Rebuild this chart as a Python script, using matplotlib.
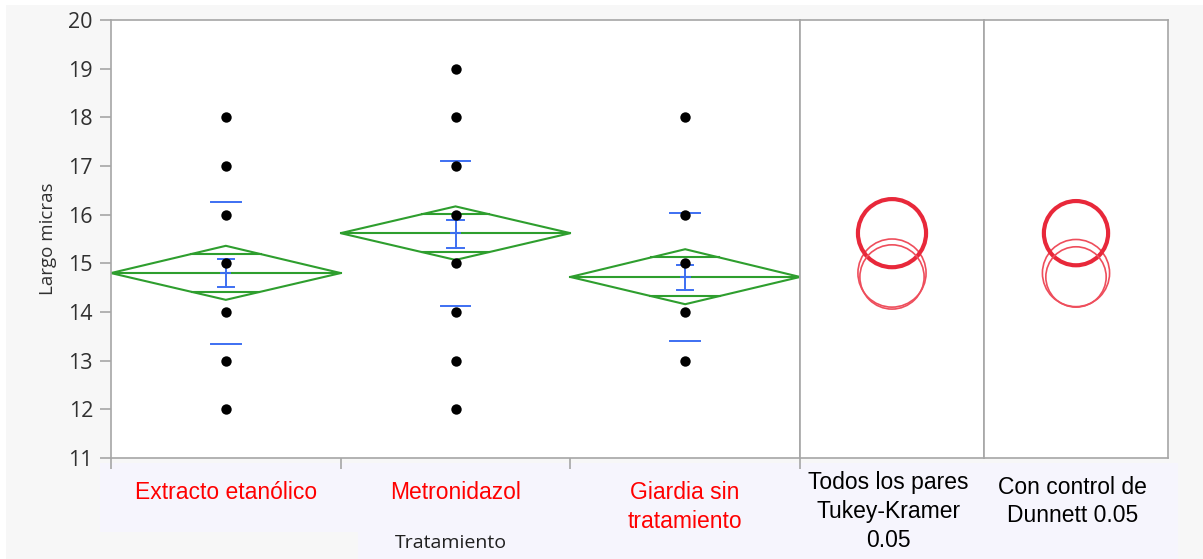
import numpy as np
import matplotlib
matplotlib.use("Agg")
import matplotlib.pyplot as plt
from matplotlib.patches import Rectangle, Circle, Polygon

# ---------------------------------------------------------------------------
# Data
# ---------------------------------------------------------------------------
groups = ["Extracto etanólico", "Metronidazol", "Giardia sin\ntratamiento"]
points = [
    [12, 13, 14, 15, 16, 17, 18],
    [12, 13, 14, 15, 16, 17, 18, 19],
    [13, 14, 15, 16, 18],
]
means = [14.80, 15.62, 14.72]
ci_lo = [14.25, 15.07, 14.16]
ci_hi = [15.36, 16.17, 15.29]
ovl_lo = [14.41, 15.23, 14.33]
ovl_hi = [15.19, 16.01, 15.12]
se_lo = [14.51, 15.31, 14.45]
se_hi = [15.09, 15.90, 14.97]
sd_lo = [13.35, 14.12, 13.40]
sd_hi = [16.26, 17.10, 16.03]

tukey_radii = [0.70, 0.70, 0.66]
dunnett_radii = [0.69, 0.66, 0.62]

y_ticks = list(range(11, 21))
y_label = "Largo micras"
x_label = "Tratamiento"
tukey_label = "Todos los pares\nTukey-Kramer\n0.05"
dunnett_label = "Con control de\nDunnett 0.05"

# ---------------------------------------------------------------------------
# Styles
# ---------------------------------------------------------------------------
W, H = 1203, 559
GREEN = "#2e9e2e"
BLUE = "#3d6ff2"
RED = "#e8283a"
RED_LT = "#ee4e5c"
FRAME = "#a6a6a6"
BG = "#f7f7f7"
LABEL_BG = "#f6f5fd"

fig = plt.figure(figsize=(W / 100, H / 100), dpi=100)
fig.patch.set_facecolor("white")


def fig_box(x0, y0, x1, y1):
    """Pixel box (top-left origin) -> figure fraction [l, b, w, h]."""
    return [x0 / W, 1 - y1 / H, (x1 - x0) / W, (y1 - y0) / H]


def fig_rect(x0, y0, x1, y1, color):
    l, b, w, h = fig_box(x0, y0, x1, y1)
    fig.add_artist(Rectangle((l, b), w, h, transform=fig.transFigure,
                             facecolor=color, edgecolor="none", zorder=0))


# background panels
fig_rect(6, 5, W, H, BG)
fig_rect(100, 463, 1178, 532, LABEL_BG)
fig_rect(358, 532, 1178, H, LABEL_BG)

PLOT_L, PLOT_R, PLOT_T, PLOT_B = 111, 800, 20, 458
PANEL2_R, PANEL3_R = 984, 1168

ax = fig.add_axes(fig_box(PLOT_L, PLOT_T, PLOT_R, PLOT_B))
ax.set_facecolor("white")
ax.set_xlim(-0.5, len(groups) - 0.5)
ax.set_ylim(11, 20)

for i in range(len(groups)):
    xl, xr = i - 0.5, i + 0.5
    m, lo, hi = means[i], ci_lo[i], ci_hi[i]
    # mean diamond
    ax.add_patch(Polygon([(xl, m), (i, hi), (xr, m), (i, lo)], closed=True,
                         fill=False, edgecolor=GREEN, lw=1.5, zorder=2))
    ax.plot([xl, xr], [m, m], color=GREEN, lw=1.5, zorder=2)
    # overlap marks, clipped to diamond edges
    for yv, top in ((ovl_hi[i], hi), (ovl_lo[i], lo)):
        frac = (yv - m) / (top - m)
        half = 0.5 * (1 - frac)
        ax.plot([i - half, i + half], [yv, yv], color=GREEN, lw=1.5, zorder=2)

    # points
    ax.scatter([i] * len(points[i]), points[i], s=56, color="black",
               zorder=4, linewidths=0)

    # std error bar
    ax.plot([i, i], [se_lo[i], se_hi[i]], color=BLUE, lw=1.4, zorder=3)
    for yv in (se_lo[i], se_hi[i]):
        ax.plot([i - 0.035, i + 0.035], [yv, yv], color=BLUE, lw=1.4, zorder=3)
    ax.plot([i - 0.02, i + 0.02], [m, m], color=BLUE, lw=1.4, zorder=3)
    # std dev lines
    for yv in (sd_lo[i], sd_hi[i]):
        ax.plot([i - 0.065, i + 0.065], [yv, yv], color=BLUE, lw=1.4, zorder=3)

ax.set_yticks(y_ticks)
ax.set_yticklabels([str(v) for v in y_ticks], fontsize=15.5,
                   family="Open Sans", color="#303030")
ax.set_xticks(np.arange(-0.5, len(groups)))
ax.set_xticklabels([])
ax.tick_params(axis="y", length=8, width=1.2, color=FRAME, pad=5)
ax.tick_params(axis="x", length=8, width=1.2, color=FRAME)
for s in ax.spines.values():
    s.set_color(FRAME)
    s.set_linewidth(1.2)

ax.set_ylabel(y_label, fontsize=13.5, family="Open Sans", color="#303030",
              labelpad=8)

# category labels
for i, g in enumerate(groups):
    ax.text(i, -0.052, g, transform=ax.get_xaxis_transform(),
            ha="center", va="top", fontsize=16.5, color="red",
            family="Liberation Sans", linespacing=1.33)

fig.text(451 / W, 1 - 543 / H, x_label, ha="center", va="center",
         fontsize=14, family="Open Sans", color="#202020")

# ---------------------------------------------------------------------------
# Comparison circles
# ---------------------------------------------------------------------------
px_per_unit = (PLOT_B - PLOT_T) / 9.0
for x0, x1, radii, label, label_y in (
        (PLOT_R, PANEL2_R, tukey_radii, tukey_label, -0.030),
        (PANEL2_R, PANEL3_R, dunnett_radii, dunnett_label, -0.040)):
    pax = fig.add_axes(fig_box(x0, PLOT_T, x1, PLOT_B))
    pax.set_facecolor("white")
    width_units = (x1 - x0) / px_per_unit
    pax.set_xlim(0, width_units)
    pax.set_ylim(11, 20)
    pax.set_xticks([])
    pax.set_yticks([])
    for s in pax.spines.values():
        s.set_color(FRAME)
        s.set_linewidth(1.2)
    xc = width_units / 2
    for i, r in enumerate(radii):
        hi = means[i] == max(means)
        pax.add_patch(Circle((xc, means[i]), r, fill=False,
                             edgecolor=RED if hi else RED_LT,
                             lw=3.0 if hi else 1.2, zorder=3))
    pax.text(0.48, label_y, label, transform=pax.transAxes, ha="center",
             va="top", fontsize=16.5, family="Liberation Sans",
             color="black", linespacing=1.33)

fig.savefig("out.png", dpi=100, facecolor=fig.get_facecolor())
